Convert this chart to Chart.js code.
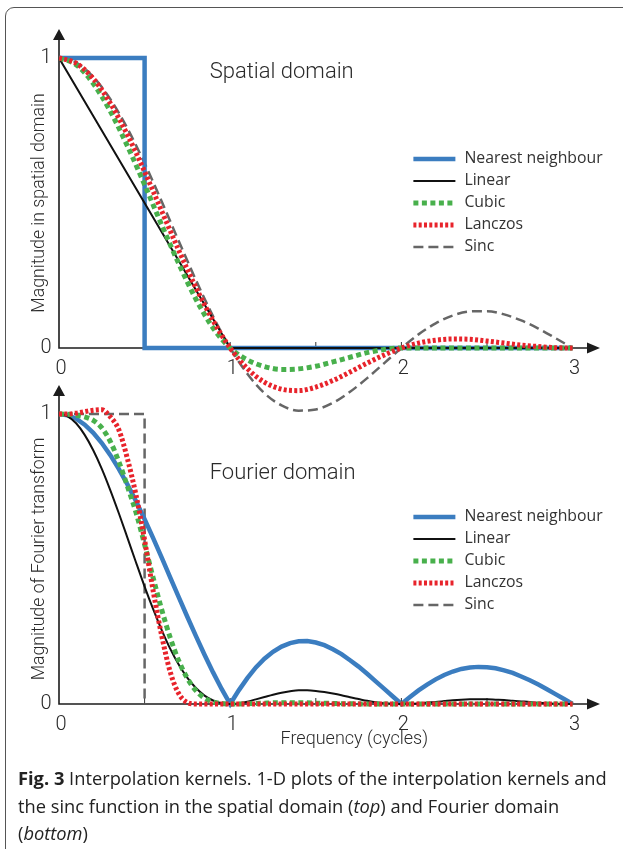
<!DOCTYPE html>
<html>
<head>
<meta charset="utf-8">
<script src="https://cdn.jsdelivr.net/npm/chart.js@4.4.1/dist/chart.umd.min.js"></script>
<style>
  html, body { margin: 0; padding: 0; background: #fff; width: 623px; height: 849px; overflow: hidden; }
  .frame { position: absolute; left: 5px; top: 7px; width: 700px; height: 900px; border: 1.5px solid #555; border-radius: 9px; }
  canvas { position: absolute; left: 0; }
  #spatial { top: 0; }
  #fourier { top: 380px; }
  .caption { position: absolute; left: 18px; top: 764px; font-family: 'Open Sans', sans-serif; font-size: 18.3px;
             line-height: 27.5px; color: #222; white-space: nowrap; letter-spacing: 0; }
  .caption b { font-weight: 700; }
</style>
</head>
<body>
<div class="frame"></div>
<canvas id="spatial" width="623" height="430"></canvas>
<canvas id="fourier" width="623" height="390"></canvas>
<div class="caption"><b>Fig. 3</b> Interpolation kernels. 1-D plots of the interpolation kernels and<br>the sinc function in the spatial domain (<i>top</i>) and Fourier domain<br>(<i>bottom</i>)</div>

<script>
// legend labels, in the order they are listed
const seriesNames = ['Nearest neighbour', 'Linear', 'Cubic', 'Lanczos', 'Sinc']
const xTickLabels = ['0', '1', '2', '3']
const yTickLabels = ['0', '1']
const minorTicks = [0.5, 1, 1.5, 2, 2.5]

// ---- spatial domain (top) ----
const spatialX = [0, 0.1, 0.2, 0.3, 0.4, 0.5, 0.6, 0.7, 0.8, 0.9, 1, 1.1, 1.2, 1.3, 1.4, 1.5,
  1.6, 1.7, 1.8, 1.9, 2, 2.1, 2.2, 2.3, 2.4, 2.5, 2.6, 2.7, 2.8, 2.9, 3]
const nearestX = [0, 0.5, 0.5, 3]
const nearestSpatial = [1, 1, 0, 0]
const linearX = [0, 1, 3]
const linearSpatial = [1, 0, 0]
const cubicSpatial = [1, 0.977, 0.912, 0.816, 0.696, 0.563, 0.424, 0.29, 0.168, 0.069, 0,
  -0.041, -0.064, -0.074, -0.072, -0.063, -0.048, -0.032, -0.016, -0.005, 0,
  0, 0, 0, 0, 0, 0, 0, 0, 0, 0]
const lanczosSpatial = [1, 0.982, 0.929, 0.844, 0.735, 0.608, 0.472, 0.336, 0.208, 0.094, 0,
  -0.071, -0.118, -0.142, -0.147, -0.135, -0.112, -0.083, -0.052, -0.024, 0,
  0.017, 0.027, 0.031, 0.03, 0.024, 0.017, 0.01, 0.005, 0.001, 0]
const sincSpatial = [1, 0.984, 0.935, 0.858, 0.757, 0.637, 0.505, 0.368, 0.234, 0.109, 0,
  -0.089, -0.156, -0.198, -0.216, -0.212, -0.189, -0.151, -0.104, -0.052, 0,
  0.047, 0.085, 0.112, 0.126, 0.127, 0.116, 0.095, 0.067, 0.034, 0]

// ---- Fourier domain (bottom) ----
const freqX = [0, 0.05, 0.1, 0.15, 0.2, 0.25, 0.3, 0.35, 0.4, 0.45, 0.5, 0.55, 0.6, 0.65, 0.7, 0.75,
  0.8, 0.85, 0.9, 0.95, 1, 1.05, 1.1, 1.15, 1.2, 1.25, 1.3, 1.35, 1.4, 1.45, 1.5, 1.55, 1.6, 1.65,
  1.7, 1.75, 1.8, 1.85, 1.9, 1.95, 2, 2.05, 2.1, 2.15, 2.2, 2.25, 2.3, 2.35, 2.4, 2.45, 2.5, 2.55,
  2.6, 2.65, 2.7, 2.75, 2.8, 2.85, 2.9, 2.95, 3]
const nearestFourier = [1, 0.996, 0.984, 0.963, 0.935, 0.9, 0.858, 0.81, 0.757, 0.699, 0.637,
  0.572, 0.505, 0.436, 0.368, 0.3, 0.234, 0.17, 0.109, 0.052, 0,
  0.047, 0.089, 0.126, 0.156, 0.18, 0.198, 0.21, 0.216, 0.217, 0.212,
  0.203, 0.189, 0.172, 0.151, 0.129, 0.104, 0.078, 0.052, 0.026, 0,
  0.024, 0.047, 0.067, 0.085, 0.1, 0.112, 0.121, 0.126, 0.128, 0.127,
  0.123, 0.116, 0.107, 0.095, 0.082, 0.067, 0.051, 0.034, 0.017, 0]
const linearFourier = [1, 0.992, 0.968, 0.928, 0.875, 0.811, 0.737, 0.657, 0.573, 0.488, 0.405,
  0.327, 0.255, 0.19, 0.135, 0.09, 0.055, 0.029, 0.012, 0.003, 0,
  0.002, 0.008, 0.016, 0.024, 0.032, 0.039, 0.044, 0.047, 0.047, 0.045,
  0.041, 0.036, 0.03, 0.023, 0.017, 0.011, 0.006, 0.003, 0.001, 0,
  0.001, 0.002, 0.005, 0.007, 0.01, 0.013, 0.015, 0.016, 0.016, 0.016,
  0.015, 0.014, 0.011, 0.009, 0.007, 0.004, 0.003, 0.001, 0, 0]
const cubicFourier = [1, 0.999, 0.996, 0.99, 0.978, 0.952, 0.905, 0.835, 0.75, 0.66, 0.55,
  0.435, 0.325, 0.228, 0.148, 0.088, 0.046, 0.02, 0.007, 0.002, 0,
  0, 0.001, 0.002, 0.003, 0.004, 0.004, 0.004, 0.004, 0.004, 0.003,
  0.003, 0.002, 0.001, 0.001, 0, 0, 0, 0, 0, 0,
  0, 0, 0, 0, 0, 0, 0, 0, 0, 0,
  0, 0, 0, 0, 0, 0, 0, 0, 0, 0]
const lanczosFourier = [1, 1, 1.003, 1.008, 1.013, 1.015, 0.99, 0.945, 0.845, 0.72, 0.565,
  0.39, 0.235, 0.11, 0.035, 0.005, 0, 0, 0, 0, 0,
  0, 0, 0, 0, 0, 0, 0, 0, 0, 0,
  0, 0, 0, 0, 0, 0, 0, 0, 0, 0,
  0, 0, 0, 0, 0, 0, 0, 0, 0, 0,
  0, 0, 0, 0, 0, 0, 0, 0, 0, 0]
const sincX = [0, 0.5, 0.5]
const sincFourier = [1, 1, 0]

const pts = (xs, ys) => ys.map((y, i) => ({ x: xs[i], y }))

const looks = [
  { borderColor: '#3b7dc0', borderWidth: 4.5, order: 3 },
  { borderColor: '#111111', borderWidth: 2, order: 2 },
  { borderColor: '#48b04c', borderWidth: 5, borderDash: [5, 3.5], order: 1 },
  { borderColor: '#e8232b', borderWidth: 5, borderDash: [3, 2.3], order: 0 },
  { borderColor: '#666666', borderWidth: 2.5, borderDash: [10, 5], order: 4 }
]

function makeDatasets(series, smooth) {
  return series.map((data, i) => ({
    label: seriesNames[i],
    data,
    ...looks[i],
    fill: false,
    pointRadius: 0,
    tension: 0,
    cubicInterpolationMode: smooth[i] ? 'monotone' : 'default'
  }))
}

const fontLight = '"Roboto", "Liberation Sans", sans-serif'

const framePlugin = {
  id: 'frame',
  beforeDatasetsDraw(chart) {
    const { ctx, chartArea } = chart
    const xs = chart.scales.x, ys = chart.scales.y
    const x0 = xs.getPixelForValue(0), y0 = ys.getPixelForValue(0)
    ctx.save()
    ctx.strokeStyle = '#1c1c1c'
    ctx.fillStyle = '#1c1c1c'
    ctx.lineWidth = 1.6
    ctx.beginPath()
    ctx.moveTo(x0, y0)
    ctx.lineTo(chartArea.right - 10, y0)
    ctx.moveTo(x0, y0 + 0.8)
    ctx.lineTo(x0, chartArea.top + 8)
    ctx.stroke()

    ctx.beginPath()
    ctx.moveTo(chartArea.right, y0)
    ctx.lineTo(chartArea.right - 13, y0 - 5.5)
    ctx.lineTo(chartArea.right - 13, y0 + 5.5)
    ctx.closePath()
    ctx.moveTo(x0, chartArea.top)
    ctx.lineTo(x0 - 6, chartArea.top + 11)
    ctx.lineTo(x0 + 6, chartArea.top + 11)
    ctx.closePath()
    ctx.fill()

    ctx.lineWidth = 1
    ctx.strokeStyle = '#333'
    ctx.beginPath()
    minorTicks.forEach(v => {
      const px = xs.getPixelForValue(v)
      ctx.moveTo(px, y0)
      ctx.lineTo(px, y0 - 6)
    })
    ctx.stroke()
    ctx.restore()
  },
  afterDatasetsDraw(chart, args, opts) {
    const { ctx } = chart
    const xs = chart.scales.x, ys = chart.scales.y
    const x0 = xs.getPixelForValue(0), y0 = ys.getPixelForValue(0)
    ctx.save()
    ctx.fillStyle = '#2a2a2a'

    // tick labels
    ctx.font = `300 20px ${fontLight}`
    ctx.textAlign = 'center'
    ctx.textBaseline = 'alphabetic'
    xTickLabels.forEach(t => ctx.fillText(t, xs.getPixelForValue(Number(t)) + 2, y0 + 26))
    ctx.textBaseline = 'middle'
    yTickLabels.forEach(t => ctx.fillText(t, x0 - 13, ys.getPixelForValue(Number(t))))

    // panel title
    ctx.font = `300 22px ${fontLight}`
    ctx.textAlign = 'left'
    ctx.textBaseline = 'alphabetic'
    ctx.fillText(opts.title, xs.getPixelForValue(opts.titleAt.x), ys.getPixelForValue(opts.titleAt.y))

    // y axis title
    ctx.font = `300 17.7px ${fontLight}`
    ctx.save()
    ctx.translate(x0 - 15, (ys.getPixelForValue(0) + ys.getPixelForValue(1)) / 2)
    ctx.rotate(-Math.PI / 2)
    ctx.textAlign = 'center'
    ctx.fillText(opts.yTitle, 0, 0)
    ctx.restore()

    // x axis title
    if (opts.xTitle) {
      ctx.font = `300 18px ${fontLight}`
      ctx.textAlign = 'center'
      ctx.fillText(opts.xTitle, xs.getPixelForValue(1.725), y0 + 40)
    }

    // legend
    const lx = xs.getPixelForValue(opts.legendAt.x)
    const ly = ys.getPixelForValue(opts.legendAt.y)
    ctx.font = '15.8px "Open Sans", sans-serif'
    ctx.textAlign = 'left'
    ctx.textBaseline = 'middle'
    chart.data.datasets.forEach((ds, i) => {
      const yy = ly + i * 22
      ctx.save()
      ctx.strokeStyle = ds.borderColor
      ctx.lineWidth = ds.borderWidth
      ctx.setLineDash(ds.borderDash || [])
      ctx.beginPath()
      ctx.moveTo(lx, yy)
      ctx.lineTo(lx + 42, yy)
      ctx.stroke()
      ctx.restore()
      ctx.fillStyle = '#333'
      ctx.fillText(ds.label, lx + 51, yy)
    })
    ctx.restore()
  }
}

function createChart(id, datasets, yMin, padding, frame) {
  const ctx = document.getElementById(id).getContext('2d')
  return new Chart(ctx, {
    type: 'line',
    data: { datasets },
    options: {
      responsive: false,
      animation: false,
      events: [],
      layout: { padding },
      scales: {
        x: { type: 'linear', min: 0, max: 3.16, display: false },
        y: { type: 'linear', min: yMin, max: 1.1, display: false }
      },
      plugins: {
        legend: { display: false },
        tooltip: { enabled: false },
        frame
      }
    },
    plugins: [framePlugin]
  })
}

createChart('spatial', makeDatasets([
  pts(nearestX, nearestSpatial),
  pts(linearX, linearSpatial),
  pts(spatialX, cubicSpatial),
  pts(spatialX, lanczosSpatial),
  pts(spatialX, sincSpatial)
], [false, false, true, true, true]), -0.25,
  { left: 59, right: 23, top: 29, bottom: 9.5 },
  { title: 'Spatial domain', titleAt: { x: 0.88, y: 0.93 }, yTitle: 'Magnitude in spatial domain',
    legendAt: { x: 2.07, y: 0.652 } })

createChart('fourier', makeDatasets([
  pts(freqX, nearestFourier),
  pts(freqX, linearFourier),
  pts(freqX, cubicFourier),
  pts(freqX, lanczosFourier),
  pts(sincX, sincFourier)
], [false, true, true, true, false]), -0.05,
  { left: 59, right: 23, top: 5, bottom: 51.5 },
  { title: 'Fourier domain', titleAt: { x: 0.88, y: 0.776 }, yTitle: 'Magnitude of Fourier transform',
    xTitle: 'Frequency (cycles)', legendAt: { x: 2.07, y: 0.645 } })
</script>
</body>
</html>
